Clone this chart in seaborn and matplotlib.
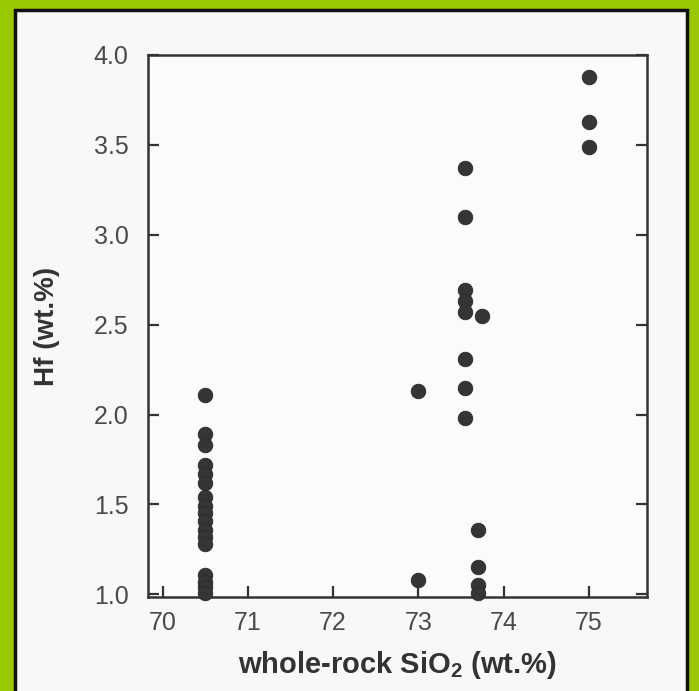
import matplotlib
matplotlib.use("Agg")
import matplotlib.pyplot as plt
import seaborn as sns
import pandas as pd
from matplotlib.patches import Rectangle

# ---- data ----
sio2_a = [70.5] * 17
hf_a = [2.11, 1.89, 1.83, 1.72, 1.67, 1.62, 1.54, 1.49, 1.45, 1.41, 1.36,
        1.32, 1.28, 1.11, 1.07, 1.04, 1.01]
sio2_b = [73.0, 73.0]
hf_b = [2.13, 1.08]
sio2_c = [73.55, 73.55, 73.55, 73.55, 73.55, 73.55, 73.55, 73.55]
hf_c = [3.37, 3.10, 2.69, 2.63, 2.57, 2.31, 2.15, 1.98]
sio2_d = [73.75, 73.7, 73.7, 73.7, 73.7]
hf_d = [2.55, 1.36, 1.15, 1.05, 1.01]
sio2_e = [75.0, 75.0, 75.0]
hf_e = [3.88, 3.63, 3.49]

x_ticks = [70, 71, 72, 73, 74, 75]
y_ticks = [1.0, 1.5, 2.0, 2.5, 3.0, 3.5, 4.0]
x_label = "whole-rock SiO$_\\mathregular{2}$ (wt.%)"
y_label = "Hf (wt.%)"

df = pd.DataFrame({
    "SiO2": sio2_a + sio2_b + sio2_c + sio2_d + sio2_e,
    "Hf": hf_a + hf_b + hf_c + hf_d + hf_e,
})

sns.set_style("ticks")
plt.rcParams["font.family"] = ["Liberation Sans", "DejaVu Sans"]

fig = plt.figure(figsize=(6.99, 6.91), dpi=100)
fig.patch.set_facecolor("#97c800")
# scanned page area (behind everything)
page = Rectangle((15 / 699, -0.01), (687 - 15) / 699, (691 - 10) / 691 + 0.01,
                 transform=fig.transFigure, facecolor="#f8f8f6",
                 edgecolor="#111111", linewidth=2.5, zorder=-10)
fig.add_artist(page)

ax = fig.add_axes([148 / 699, 1 - 597 / 691, (647 - 148) / 699, (597 - 55) / 691])
ax.set_zorder(5)
ax.set_facecolor("#fbfbfa")

sns.scatterplot(data=df, x="SiO2", y="Hf", ax=ax, s=110, color="#353535",
                edgecolor="#2a2a2a", linewidth=0.6, zorder=3, legend=False,
                clip_on=False)

ax.set_xlim(69.83, 75.68)
ax.set_ylim(0.985, 4.0)
ax.set_xticks(x_ticks)
ax.set_xticklabels([str(v) for v in x_ticks])
ax.set_yticks(y_ticks)
ax.set_yticklabels([f"{v:.1f}" for v in y_ticks])
ax.tick_params(direction="in", length=8, width=1.6, color="#333333",
               labelsize=18, labelcolor="#4a4a4a", right=True)
ax.tick_params(axis="x", pad=10)
ax.tick_params(axis="y", pad=14)
for sp in ax.spines.values():
    sp.set_linewidth(1.8)
    sp.set_color("#333333")

ax.set_xlabel(x_label, fontsize=21, fontweight="bold", color="#333333", labelpad=10)
ax.set_ylabel(y_label, fontsize=20, fontweight="bold", color="#333333", labelpad=24)

fig.savefig("out.png", dpi=100, facecolor=fig.get_facecolor())
